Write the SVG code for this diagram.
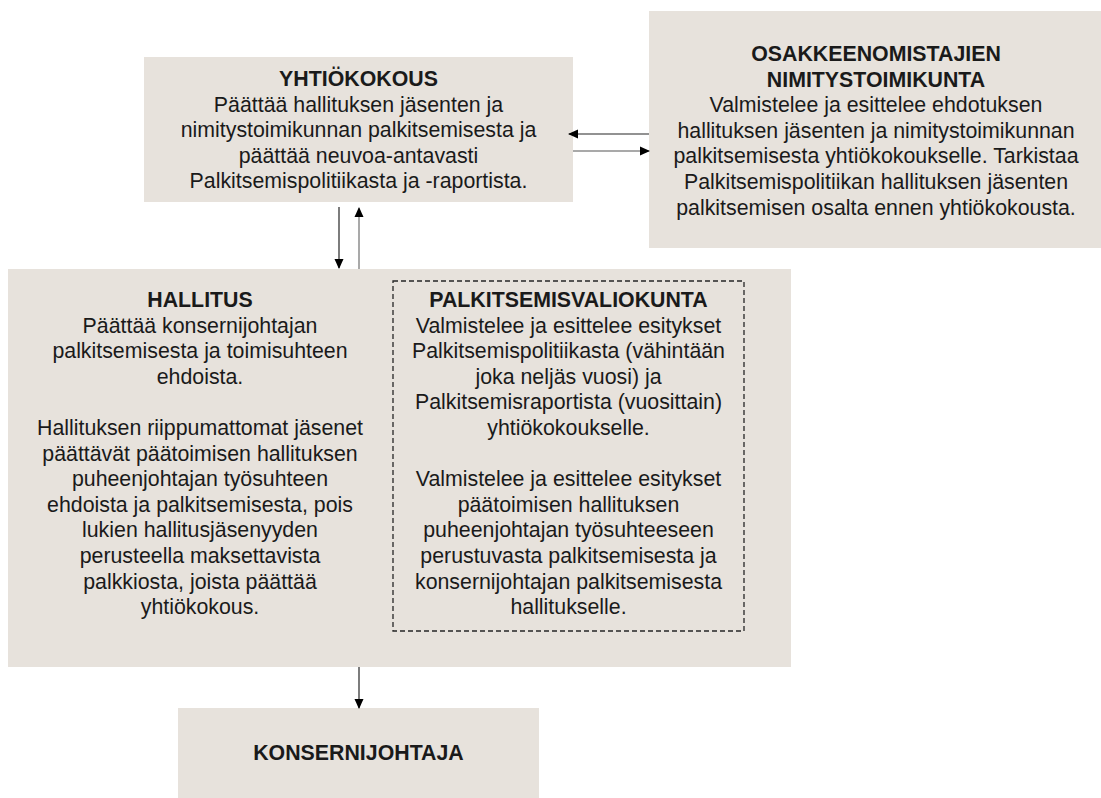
<svg xmlns="http://www.w3.org/2000/svg" width="1101" height="798" viewBox="0 0 1101 798">
<style>
.box{fill:#E7E2DC;}
.t{font-family:"Liberation Sans",Arial,sans-serif;font-size:21.33px;fill:#1a1a1a;text-anchor:middle;}
.b{font-weight:bold;}
.dark{stroke:#262626;stroke-width:1.2;fill:none;}
.gray{stroke:#8c8c8c;stroke-width:1.5;fill:none;}
.dash{fill:none;stroke:#262626;stroke-width:1.3;stroke-dasharray:5 3;}
</style>
<defs>
<marker id="ah" markerWidth="10" markerHeight="10" refX="9" refY="5" orient="auto" markerUnits="userSpaceOnUse">
<path d="M0,0.5 L10,5 L0,9.5 Z" fill="#000"/>
</marker>
</defs>
<rect width="1101" height="798" fill="#fff"/>
<g id="yhtiokokous">
<rect class="box" x="144" y="57" width="429" height="145"/>
<text class="t"><tspan class="b" x="358.5" y="86">YHTIÖKOKOUS</tspan><tspan x="358.5" y="111.6">Päättää hallituksen jäsenten ja</tspan><tspan x="358.5" y="137.2">nimitystoimikunnan palkitsemisesta ja</tspan><tspan x="358.5" y="162.8">päättää neuvoa-antavasti</tspan><tspan x="358.5" y="188.4">Palkitsemispolitiikasta ja -raportista.</tspan></text>
</g>
<g id="nimitystoimikunta">
<rect class="box" x="649" y="11" width="452" height="237"/>
<text class="t"><tspan class="b" x="876" y="61">OSAKKEENOMISTAJIEN</tspan><tspan class="b" x="876" y="86.6">NIMITYSTOIMIKUNTA</tspan><tspan x="876" y="112.2">Valmistelee ja esittelee ehdotuksen</tspan><tspan x="876" y="137.8">hallituksen jäsenten ja nimitystoimikunnan</tspan><tspan x="876" y="163.4">palkitsemisesta yhtiökokoukselle.  Tarkistaa</tspan><tspan x="876" y="189">Palkitsemispolitiikan hallituksen jäsenten</tspan><tspan x="876" y="214.6">palkitsemisen osalta ennen yhtiökokousta.</tspan></text>
</g>
<g id="hallitus">
<rect class="box" x="8" y="269" width="783" height="398"/>
<text class="t"><tspan class="b" x="200" y="307">HALLITUS</tspan><tspan x="200" y="332.6">Päättää konsernijohtajan</tspan><tspan x="200" y="358.2">palkitsemisesta ja toimisuhteen</tspan><tspan x="200" y="383.8">ehdoista.</tspan><tspan x="200" y="435">Hallituksen riippumattomat jäsenet</tspan><tspan x="200" y="460.6">päättävät  päätoimisen hallituksen</tspan><tspan x="200" y="486.2">puheenjohtajan työsuhteen</tspan><tspan x="200" y="511.8">ehdoista ja palkitsemisesta, pois</tspan><tspan x="200" y="537.4">lukien hallitusjäsenyyden</tspan><tspan x="200" y="563">perusteella maksettavista</tspan><tspan x="200" y="588.6">palkkiosta, joista päättää</tspan><tspan x="200" y="614.2">yhtiökokous.</tspan></text>
</g>
<g id="palkitsemisvaliokunta">
<rect class="dash" x="393" y="281" width="351" height="350"/>
<text class="t"><tspan class="b" x="568.5" y="307">PALKITSEMISVALIOKUNTA</tspan><tspan x="568.5" y="332.6">Valmistelee ja esittelee esitykset</tspan><tspan x="568.5" y="358.2">Palkitsemispolitiikasta (vähintään</tspan><tspan x="568.5" y="383.8">joka neljäs vuosi) ja</tspan><tspan x="568.5" y="409.4">Palkitsemisraportista (vuosittain)</tspan><tspan x="568.5" y="435">yhtiökokoukselle.</tspan><tspan x="568.5" y="486.2">Valmistelee ja esittelee esitykset</tspan><tspan x="568.5" y="511.8">päätoimisen hallituksen</tspan><tspan x="568.5" y="537.4">puheenjohtajan työsuhteeseen</tspan><tspan x="568.5" y="563">perustuvasta palkitsemisesta ja</tspan><tspan x="568.5" y="588.6">konsernijohtajan palkitsemisesta</tspan><tspan x="568.5" y="614.2">hallitukselle.</tspan></text>
</g>
<g id="konsernijohtaja">
<rect class="box" x="178" y="708" width="361" height="90"/>
<text class="t b" x="358.5" y="760">KONSERNIJOHTAJA</text>
</g>
<g id="connectors">
<line class="dark" x1="649" y1="134" x2="569" y2="134" marker-end="url(#ah)"/>
<line class="gray" x1="573" y1="151" x2="649" y2="151" marker-end="url(#ah)"/>
<line class="dark" x1="339" y1="207" x2="339" y2="268" marker-end="url(#ah)"/>
<line class="gray" x1="359" y1="269" x2="359" y2="208" marker-end="url(#ah)"/>
<line class="dark" x1="359" y1="667" x2="359" y2="708" marker-end="url(#ah)"/>
</g>
</svg>
